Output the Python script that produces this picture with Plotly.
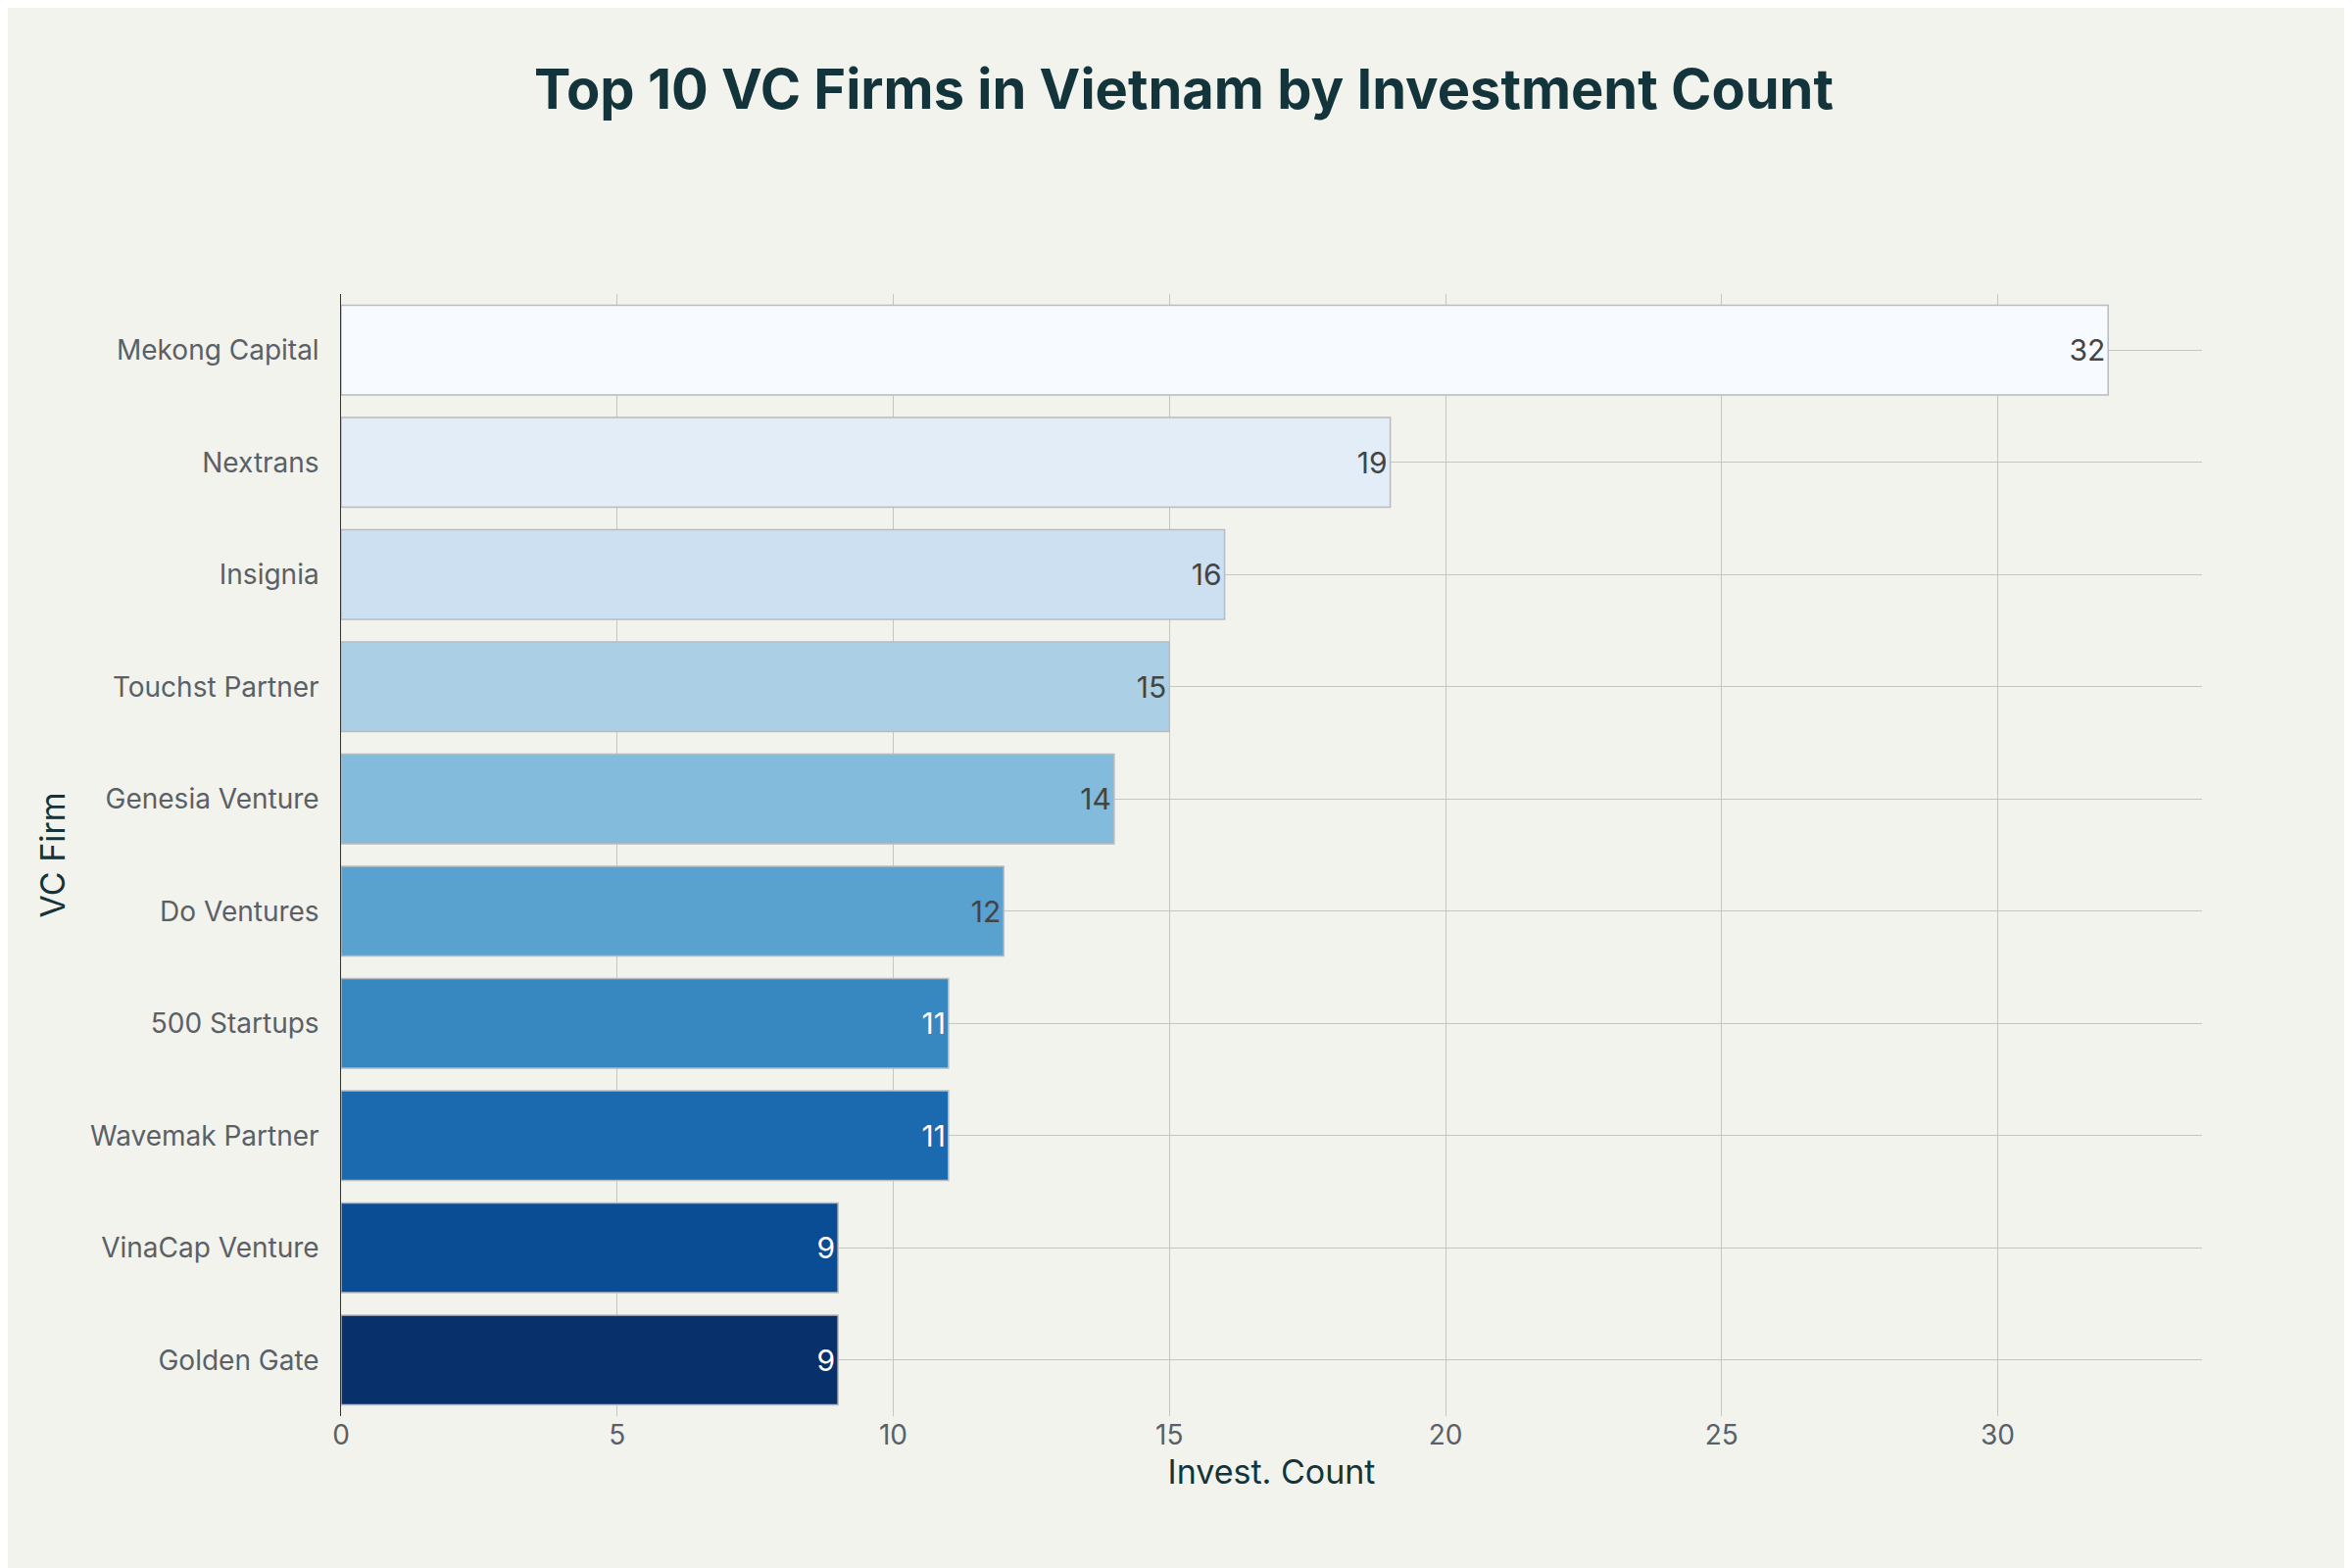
import plotly.graph_objects as go

firms = ["Mekong Capital", "Nextrans", "Insignia", "Touchst Partner", "Genesia Venture",
         "Do Ventures", "500 Startups", "Wavemak Partner", "VinaCap Venture", "Golden Gate"]
counts = [32, 19, 16, 15, 14, 12, 11, 11, 9, 9]
colors = ["#f7fbff", "#e2edf8", "#cde0f1", "#abd0e6", "#82bbdb",
          "#59a1cf", "#3787c0", "#1b69af", "#0b4d94", "#08306b"]

fig = go.Figure(go.Bar(
    x=counts, y=firms, orientation="h",
    marker=dict(color=colors, line=dict(color="#b8bcc0", width=1.5)),
    text=counts, textposition="inside", insidetextanchor="end",
    textfont=dict(size=30),
))
fig.update_layout(
    width=2400, height=1600,
    paper_bgcolor="#f3f3ee", plot_bgcolor="#f3f3ee",
    font=dict(family="Inter, sans-serif", size=28, color="#13343b"),
    title=dict(text="<b>Top 10 VC Firms in Vietnam by Investment Count</b>",
               x=0.5, xanchor="center", y=0.96, font=dict(size=56, color="#13343b")),
    margin=dict(l=340, r=161, t=292, b=163),
    bargap=0.2, showlegend=False,
)
fig.update_xaxes(title=dict(text="Invest. Count", font=dict(size=34), standoff=10), range=[0, 33.7],
                 dtick=5, gridcolor="#c4c6c0", zeroline=False,
                 tickfont=dict(size=28, color="#5a6066"))
fig.update_yaxes(title=dict(text="VC Firm", font=dict(size=34)), autorange="reversed",
                 gridcolor="#c4c6c0", showline=True, linecolor="#333", linewidth=1,
                 tickfont=dict(size=28, color="#5a6066"), ticksuffix="  ")
fig.write_html("out.html")
